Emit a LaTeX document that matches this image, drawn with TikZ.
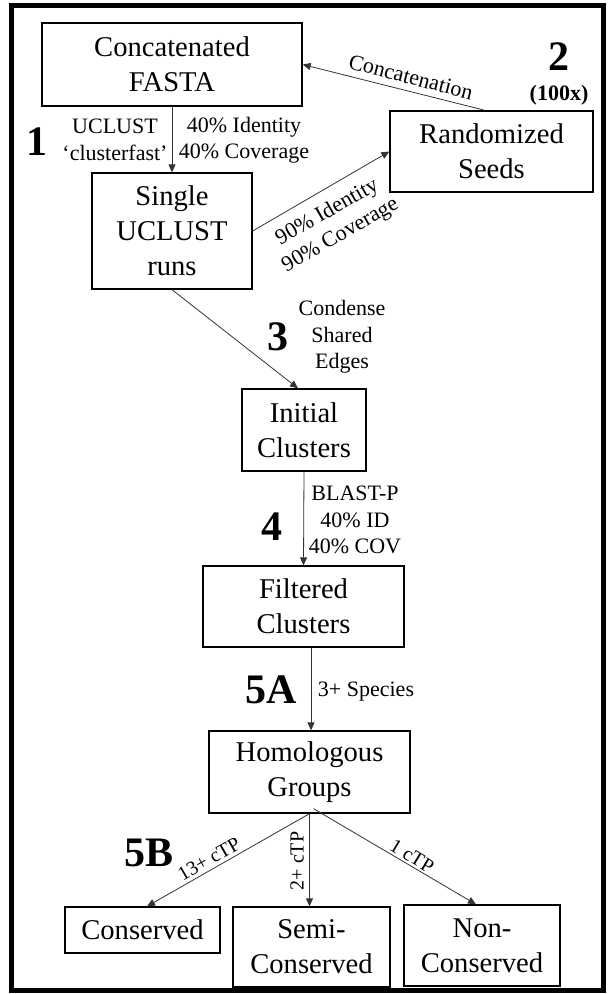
\documentclass[tikz,border=0pt]{standalone}
\usepackage{fontspec}
\setmainfont{Liberation Serif}
\usetikzlibrary{arrows.meta,calc}

\begin{document}
\begin{tikzpicture}[x=1pt,y=-1pt,
  box/.style={draw, line width=1.3pt, align=center, inner sep=0pt,
    font=\fontsize{28.6}{35}\selectfont},
  lbl/.style={align=center, inner sep=0pt, font=\fontsize{22}{26.5}\selectfont},
  small/.style={align=center, inner sep=0pt, font=\fontsize{20}{24}\selectfont},
  stepnum/.style={inner sep=0pt, font=\bfseries\fontsize{42}{42}\selectfont},
  arr/.style={-{Triangle[length=8pt,width=7pt]}, line width=0.8pt, black!80},
]
\useasboundingbox (0,0) rectangle (611,994);
% outer frame
\draw[line width=5pt] (11,5.5) rectangle (603.5,990.5);

% process boxes
\node[box, minimum width=260pt, minimum height=83pt] (fasta) at (172,64.5) {Concatenated\\FASTA};
\node[box, minimum width=203pt, minimum height=81pt] (seeds) at (491.5,151.5) {Randomized\\Seeds};
\node[box, minimum width=160pt, minimum height=116pt] (single) at (172,231) {Single\\UCLUST\\runs};
\node[box, minimum width=124pt, minimum height=82pt] (initial) at (304,430) {Initial\\Clusters};
\node[box, minimum width=201pt, minimum height=81pt] (filtered) at (303.5,606.5) {Filtered\\Clusters};
\node[box, minimum width=201pt, minimum height=82pt] (homol) at (309.5,772) {Homologous\\Groups};
\node[box, minimum width=155pt, minimum height=46pt] (cons) at (142.5,930) {Conserved};
\node[box, minimum width=157pt, minimum height=80pt] (semi) at (311.5,947) {Semi-\\Conserved};
\node[box, minimum width=156pt, minimum height=81pt] (non) at (482,945.5) {Non-\\Conserved};

% connectors
\draw[arr] (fasta.south) -- (single.north);
\draw[arr] ([xshift=-6.5pt]seeds.north) -- (fasta.east);
\draw[arr] (single.east) -- (seeds.west);
\draw[arr] (single.south) -- ([xshift=-6pt]initial.north);
\draw[arr] (initial.south) -- (filtered.north);
\draw[arr] ([xshift=7.5pt]filtered.south) -- ([xshift=1.5pt]homol.north);
\draw[arr] (homol.south) -- ([xshift=4.5pt]cons.north);
\draw[arr] (homol.south) -- ([xshift=-2pt]semi.north);
\draw[arr] ([xshift=4pt,yshift=5pt]homol.south) -- ([xshift=-6pt]non.north);

% step numbers
\node[stepnum] (n1) at (37,142) {1};
\node[stepnum] (n2) at (559,57) {2};
\node[inner sep=0pt, font=\bfseries\fontsize{22}{22}\selectfont] (n2x) at (559,95) {(100x)};
\node[stepnum] (n3) at (278,337) {3};
\node[stepnum] (n4) at (272,527) {4};
\node[stepnum] (n5a) at (271,690) {5A};
\node[stepnum] (n5b) at (149,853) {5B};

% connector labels
\node[lbl] (l1a) at (115,140) {UCLUST\\‘clusterfast’};
\node[lbl] (l1b) at (244,140) {40\% Identity\\40\% Coverage};
\node[lbl, rotate=-14.5] (lcat) at (411,77) {Concatenation};
\node[lbl, rotate=29.8] (l90) at (334,224) {90\% Identity\\90\% Coverage};
\node[lbl] (l3) at (342,337) {Condense\\Shared\\Edges};
\node[lbl] (l4) at (355,520) {BLAST-P\\40\% ID\\40\% COV};
\node[lbl] (l5a) at (366,692) {3+ Species};
\node[small, rotate=30] (l13) at (209,859) {13+ cTP};
\node[small, rotate=90] (l2) at (297,861) {2+ cTP};
\node[small, rotate=-31] (l1c) at (412,856) {1 cTP};
\end{tikzpicture}
\end{document}
